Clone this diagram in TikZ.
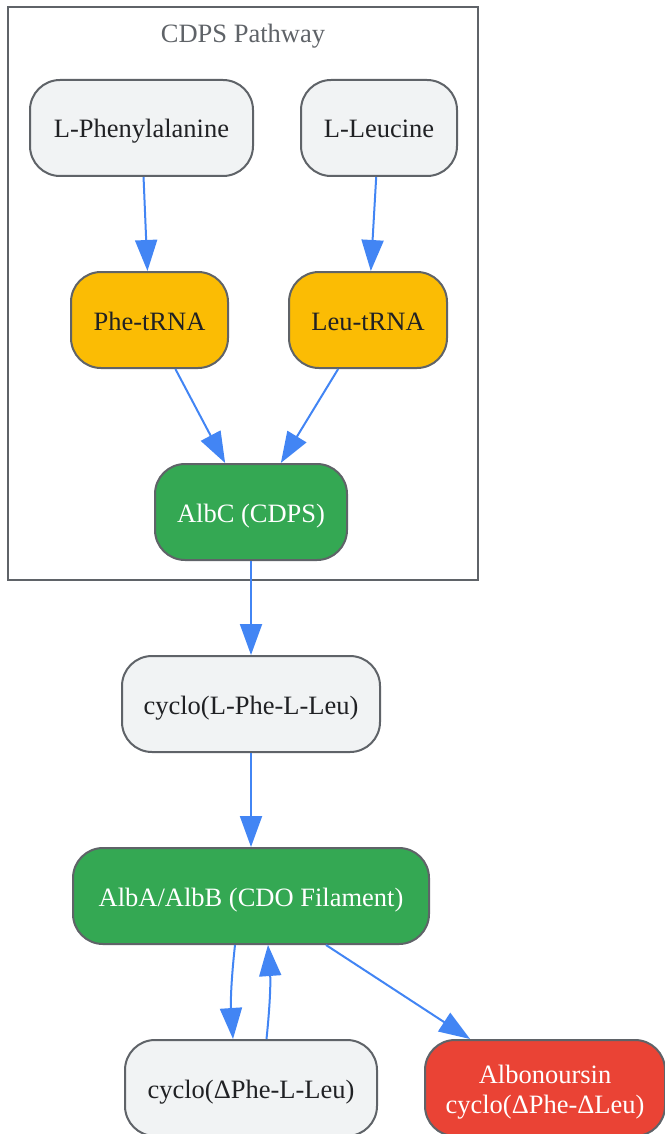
\documentclass[tikz,border=0pt]{standalone}
\usepackage{fontspec}
\setmainfont{Liberation Serif}
\usetikzlibrary{arrows.meta}
\definecolor{edgeblue}{HTML}{4285F4}
\definecolor{bordergray}{HTML}{5F6368}
\definecolor{palegray}{HTML}{F1F3F4}
\definecolor{textdark}{HTML}{202124}
\definecolor{trnayellow}{HTML}{FBBC04}
\definecolor{enzymegreen}{HTML}{34A853}
\definecolor{productred}{HTML}{EA4335}
\begin{document}
\begin{tikzpicture}[x=1pt,y=-1pt,
	box/.style={draw=bordergray, line width=2pt, rounded corners=30pt, minimum height=96pt, inner sep=0pt, align=center, font=\fontsize{26.5}{30}\selectfont},
	oneline/.style={text height=20pt, text depth=0pt},
	pale/.style={box, oneline, fill=palegray, text=textdark},
	trna/.style={box, oneline, fill=trnayellow, text=textdark},
	enzyme/.style={box, oneline, fill=enzymegreen, text=white},
	product/.style={box, text height=50pt, text depth=0pt, fill=productred, text=white},
	flow/.style={draw=edgeblue, line width=2pt, -{Triangle[length=31pt,width=22pt]}}]
	\useasboundingbox (0,0) rectangle (664,1134);
	% cluster
	\draw [draw=bordergray, line width=2pt] (8,7) rectangle (478,580);
	\node [text=bordergray, font=\fontsize{26.5}{30}\selectfont] (title) at (243,36) {CDPS Pathway};
	% nodes
	\node [pale, minimum width=223pt] (phe) at (141.5,128) {L-Phenylalanine};
	\node [pale, minimum width=156pt] (leu) at (379,128) {L-Leucine};
	\node [trna, minimum width=157pt] (phetrna) at (149.5,320) {Phe-tRNA};
	\node [trna, minimum width=158pt] (leutrna) at (368,320) {Leu-tRNA};
	\node [enzyme, minimum width=192pt] (albc) at (251,512) {AlbC (CDPS)};
	\node [pale, minimum width=258pt] (cyclo) at (251,704) {cyclo(L-Phe-L-Leu)};
	\node [enzyme, minimum width=356pt] (albab) at (251,896) {AlbA/AlbB (CDO Filament)};
	\node [pale, minimum width=252pt] (dehydro) at (251,1088) {cyclo(ΔPhe-L-Leu)};
	\node [product, minimum width=240pt] (albo) at (545,1088) {Albonoursin\\cyclo(ΔPhe-ΔLeu)};
	% edges
	\draw [flow] (phe) -- (phetrna);
	\draw [flow] (leu) -- (leutrna);
	\draw [flow] (phetrna) -- (albc);
	\draw [flow] (leutrna) -- (albc);
	\draw [flow] (albc) -- (cyclo);
	\draw [flow] (cyclo) -- (albab);
	\draw [flow] ([xshift=-16pt]albab.south) to[bend right=5] ([xshift=-18pt]dehydro.north);
	\draw [flow] ([xshift=15.5pt]dehydro.north) to[bend right=5] ([xshift=17pt]albab.south);
	\draw [flow] (albab) -- (albo);
\end{tikzpicture}
\end{document}
